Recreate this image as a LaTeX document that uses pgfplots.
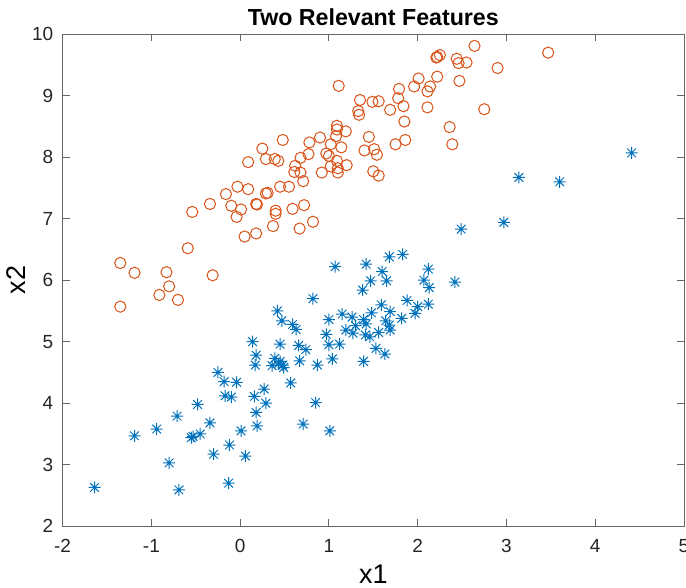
\documentclass[border=0pt]{standalone}
\usepackage{pgfplots}
\pgfplotsset{compat=1.18}
\usepackage{fontspec}
\setmainfont{Liberation Sans}
\definecolor{mred}{rgb}{0.85,0.325,0.098}
\definecolor{mblue}{rgb}{0,0.447,0.741}
\pgfdeclareplotmark{matstar}{%
  \pgfpathmoveto{\pgfqpoint{0pt}{\pgfplotmarksize}}%
  \pgfpathlineto{\pgfqpoint{0pt}{-\pgfplotmarksize}}%
  \pgfpathmoveto{\pgfqpoint{\pgfplotmarksize}{0pt}}%
  \pgfpathlineto{\pgfqpoint{-\pgfplotmarksize}{0pt}}%
  \pgfpathmoveto{\pgfqpoint{0.72\pgfplotmarksize}{0.72\pgfplotmarksize}}%
  \pgfpathlineto{\pgfqpoint{-0.72\pgfplotmarksize}{-0.72\pgfplotmarksize}}%
  \pgfpathmoveto{\pgfqpoint{-0.72\pgfplotmarksize}{0.72\pgfplotmarksize}}%
  \pgfpathlineto{\pgfqpoint{0.72\pgfplotmarksize}{-0.72\pgfplotmarksize}}%
  \pgfusepathqstroke}
\pgfplotstableread{
x y
1.11 9.16
1.35 8.93
1.33 8.75
1.34 8.69
1.09 8.51
1.09 8.45
1.19 8.42
1.08 8.34
0.48 8.28
0.90 8.32
0.78 8.24
1.02 8.21
1.14 8.16
0.25 8.14
0.97 8.06
0.77 8.05
1.40 8.11
1.00 8.02
0.09 7.92
0.29 7.97
0.39 7.97
0.43 7.94
0.68 7.99
1.09 7.94
1.20 7.87
1.02 7.85
1.10 7.82
1.10 7.75
0.62 7.86
0.61 7.76
0.68 7.75
0.92 7.75
0.71 7.61
-0.03 7.52
0.09 7.48
-0.16 7.40
0.29 7.41
0.31 7.42
0.45 7.52
0.55 7.52
-0.34 7.24
-0.10 7.21
0.01 7.15
0.18 7.24
0.19 7.23
-0.04 7.03
-0.54 7.11
0.40 7.13
0.40 7.08
0.59 7.16
0.72 7.22
0.37 6.88
0.67 6.84
0.82 6.95
0.05 6.71
0.18 6.76
-0.59 6.52
-1.35 6.28
-1.19 6.12
-0.83 6.13
-0.31 6.08
-0.80 5.90
-0.91 5.76
-0.70 5.68
-1.35 5.57
2.64 9.81
3.47 9.70
2.21 9.62
2.25 9.66
2.22 9.63
2.44 9.60
2.46 9.53
2.55 9.54
2.90 9.45
2.01 9.28
2.22 9.31
2.47 9.24
1.79 9.11
1.96 9.15
2.14 9.15
2.11 9.07
1.78 8.96
1.49 8.90
1.56 8.91
1.84 8.83
1.69 8.77
2.11 8.81
2.75 8.78
1.85 8.58
2.36 8.49
1.45 8.33
1.86 8.28
1.75 8.21
2.39 8.21
1.51 8.13
1.54 8.04
1.50 7.77
1.56 7.70
}\redtable
\pgfplotstableread{
x y
-1.64 2.63
-1.19 3.47
-0.94 3.58
-0.80 3.03
-0.69 2.59
-0.71 3.79
-0.55 3.44
-0.53 3.46
-0.45 3.50
-0.48 3.98
-0.34 3.68
-0.30 3.17
-0.25 4.50
-0.18 4.35
-0.04 4.34
-0.17 4.12
-0.10 4.10
-0.12 3.32
-0.13 2.70
0.01 3.55
0.06 3.14
0.14 5.00
0.18 4.78
0.17 4.62
0.16 4.11
0.27 4.23
0.29 4.00
0.18 3.85
0.19 3.63
0.42 5.50
0.47 5.34
0.45 4.96
0.39 4.73
0.36 4.61
0.43 4.64
0.48 4.62
0.49 4.58
0.45 4.68
0.57 4.33
0.59 5.28
0.63 5.20
0.66 4.94
0.74 4.87
0.67 4.69
0.71 3.66
0.82 5.70
0.87 4.62
0.85 4.01
0.97 5.12
1.00 5.36
1.00 4.95
1.12 4.96
1.04 4.72
1.01 3.55
1.07 6.22
1.15 5.45
1.26 5.40
1.19 5.19
1.27 5.14
1.30 5.26
1.38 5.84
1.42 6.26
1.39 4.68
1.41 5.11
1.39 5.36
4.41 8.07
3.14 7.67
3.60 7.60
2.97 6.94
2.49 6.83
2.42 5.97
1.68 6.38
1.83 6.42
1.60 6.14
1.47 5.99
1.65 5.99
2.12 6.18
2.07 6.00
2.13 5.88
1.88 5.67
2.12 5.61
2.00 5.57
1.97 5.46
1.82 5.38
1.59 5.60
1.69 5.49
1.48 5.47
1.42 5.29
1.64 5.34
1.68 5.27
1.69 5.19
1.56 5.15
1.46 5.08
1.53 4.89
1.63 4.80
}\bluetable
\begin{document}
\begin{tikzpicture}
\begin{axis}[
  scale only axis,
  width=310.7pt, height=246pt,
  xmin=-2, xmax=5, ymin=2, ymax=10,
  xtick={-2,-1,0,1,2,3,4,5},
  ytick={2,3,4,5,6,7,8,9,10},
  tick align=inside,
  tick pos=both,
  major tick length=3.5pt,
  axis line style={draw=black!60, line width=0.5pt},
  tick style={draw=black!60, line width=0.5pt},
  /pgf/number format/assume math mode=true,
  ticklabel style={font=\fontsize{9.5}{11}\selectfont, text=black!85},
  xticklabel style={anchor=base, yshift=-13pt},
  yticklabel style={xshift=-1.2pt},
  every axis title shift=0pt,
  title={Two Relevant Features},
  title style={font=\bfseries\fontsize{11.6}{13}\selectfont, at={(axis description cs:0.5,1)}, anchor=base, yshift=4.1pt},
  xlabel={x1},
  ylabel={x2},
  xlabel style={font=\fontsize{13.5}{15}\selectfont, at={(axis description cs:0.5,0)}, anchor=base, yshift=-28.5pt},
  ylabel style={font=\fontsize{13.5}{15}\selectfont, at={(axis description cs:-0.075,0.5)}, anchor=center},
]
\addplot[only marks, mark=o, mark size=2.8pt, mred, mark options={line width=0.5pt}] table {\redtable};
\addplot[only marks, mark=matstar, mark size=3pt, mblue, mark options={line width=0.5pt}] table {\bluetable};
\end{axis}
\pgfresetboundingbox
\useasboundingbox ([xshift=-31.3pt,yshift=-30.4pt]current axis.south west) rectangle ([xshift=1pt,yshift=17.1pt]current axis.north east);
\end{tikzpicture}
\end{document}
